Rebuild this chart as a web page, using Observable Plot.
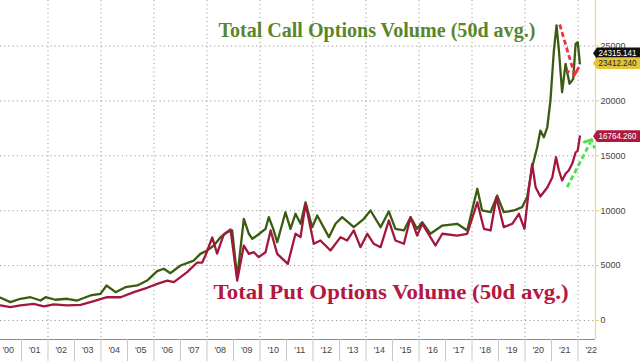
<!DOCTYPE html>
<html><head><meta charset="utf-8">
<script src="https://cdn.jsdelivr.net/npm/d3@7"></script>
<script src="https://cdn.jsdelivr.net/npm/@observablehq/plot@0.6"></script>
<style>body{margin:0;background:#fff} svg{display:block}</style>
</head><body><div id="chart"></div>
<script>
// ---- data (decimal years / contracts, thousands) ----
const callDates = [2000.21,2000.58,2000.96,2001.34,2001.72,2001.91,2002.28,2002.72,2003.10,2003.60,2003.98,2004.21,2004.55,2004.92,2005.37,2005.74,2006.12,2006.37,2006.62,2007.00,2007.50,2007.75,2008.01,2008.26,2008.51,2008.76,2008.95,2009.14,2009.39,2009.58,2009.71,2009.89,2010.21,2010.33,2010.50,2010.65,2010.96,2011.15,2011.34,2011.53,2011.72,2011.97,2012.16,2012.60,2012.85,2013.10,2013.54,2013.92,2014.17,2014.55,2014.86,2015.11,2015.43,2015.68,2015.93,2016.12,2016.43,2016.88,2017.44,2017.82,2018.20,2018.38,2018.70,2018.95,2019.20,2019.58,2019.89,2020.08,2020.27,2020.46,2020.58,2020.71,2020.84,2020.96,2021.09,2021.19,2021.28,2021.40,2021.53,2021.68,2021.82,2021.91,2021.99,2022.07];
const callValues = [2070,1670,1980,2120,1820,2120,1890,1980,1820,2280,2430,3190,2580,3030,3190,3640,4490,4710,4310,5010,5460,6070,6380,6830,7590,8040,8200,3900,9260,7900,7440,7740,8350,9410,8350,7130,9860,8350,9720,8810,10770,8500,9560,7590,8810,9410,8500,9260,10020,8500,9930,8350,8200,9410,8350,8950,7900,8650,8810,8200,12000,10020,9860,11380,9860,10020,10320,11230,13960,15780,17300,16690,17600,20040,24590,26870,24590,20790,23380,21560,22010,25200,25350,23412];

const putDates = [2000.21,2000.58,2000.96,2001.46,2001.84,2002.22,2002.72,2003.23,2003.73,2004.23,2004.74,2005.24,2005.74,2006.12,2006.50,2006.75,2007.25,2007.63,2007.82,2007.94,2008.20,2008.38,2008.63,2008.89,2009.14,2009.39,2009.58,2009.77,2009.95,2010.21,2010.40,2010.65,2011.05,2011.34,2011.53,2011.72,2012.03,2012.28,2012.66,2013.04,2013.29,2013.54,2013.79,2014.05,2014.29,2014.55,2014.86,2015.11,2015.43,2015.68,2015.93,2016.12,2016.43,2016.62,2016.88,2017.44,2017.82,2018.20,2018.45,2018.70,2018.92,2019.20,2019.52,2019.77,2019.98,2020.14,2020.27,2020.40,2020.58,2020.84,2021.03,2021.17,2021.28,2021.40,2021.53,2021.65,2021.78,2021.91,2021.99,2022.07];
const putValues = [1370,1210,1370,1520,1280,1460,1370,1430,1760,2120,2120,2580,2980,3340,3640,3490,4400,5280,5280,5920,7560,6100,7830,8290,3640,6830,6070,6220,5770,6220,8200,6070,5160,7900,7590,10630,6990,7290,6380,7590,7290,8200,6680,7900,6990,6680,9110,7290,6990,9410,7740,8810,7590,6830,7900,7740,7900,10770,8350,8200,11230,8500,8810,9720,8350,11840,14270,12140,11290,12110,13020,14870,13660,12750,13360,13660,14270,15300,15480,16764];

const yTicks = [0, 5000, 10000, 15000, 20000, 25000];
const gridYears = [2002, 2004, 2006, 2008, 2010, 2012, 2014, 2016, 2018, 2020, 2022];
const yearStarts = d3.range(2001, 2023);
const xLabelYears = d3.range(2000.5, 2023, 1);
const xLabels = ["'00","'01","'02","'03","'04","'05","'06","'07","'08","'09","'10","'11","'12","'13","'14","'15","'16","'17","'18","'19","'20","'21","'22"];

const tagTexts = ["24315.141", "23412.240", "16764.260"];
const tagValues = [24315.141, 23412.240, 16764.260];

const callTitle = "Total Call Options Volume (50d avg.)";
const putTitle = "Total Put Options Volume (50d avg.)";
const callTitlePos = [2008.43, 26410];
const putTitlePos = [2008.25, 2550];

const redArrow = [2021.31, 26960, 2021.84, 22610];
const greenArrow = [2021.59, 12140, 2022.47, 16240];

// ---- build tables ----
const calls = callDates.map((d, i) => ({x: d, y: callValues[i]}));
const puts = putDates.map((d, i) => ({x: d, y: putValues[i]}));
const xDomain = [2000.208, 2022.66];
const yDomain = [-1730, 29144];
const xMax = xDomain[1];

const tagColors = [["#111111", "#ffffff"], ["#e3c43a", "#222222"], ["#ad1a40", "#ffffff"]];

const plot = Plot.plot({
  width: 640, height: 361,
  marginLeft: 0, marginRight: 45, marginTop: 0, marginBottom: 22,
  style: {background: "#fff", fontFamily: "Liberation Sans, Arial, sans-serif"},
  x: {type: "linear", domain: xDomain, label: null},
  y: {type: "linear", domain: yDomain, label: null},
  marks: [
    Plot.ruleY(yTicks, {stroke: "#9a9a9a", strokeDasharray: "1.2,3", strokeWidth: 1}),
    Plot.ruleX(gridYears, {stroke: "#9a9a9a", strokeDasharray: "1.2,3", strokeWidth: 1}),
    Plot.ruleY([yDomain[0]], {stroke: "#8c8c8c"}),
    Plot.ruleX([xMax], {stroke: "#e6d98c", strokeWidth: 1.2}),
    Plot.axisX({ticks: yearStarts, tickSize: 22, tickFormat: () => "", stroke: "#c8c8c8", label: null}),
    Plot.axisX({ticks: xLabelYears, tickSize: 0, tickPadding: 7, fontSize: 9, fill: "#444", label: null,
      tickFormat: d => xLabels[Math.round(d - 2000.5)]}),
    Plot.axisY({anchor: "right", ticks: yTicks, tickSize: 3, tickPadding: 2, fontSize: 9, label: null,
      stroke: "#e0cf6a", fill: "#444", tickFormat: d => String(d)}),
    Plot.line(calls, {x: "x", y: "y", stroke: "#3b5b10", strokeWidth: 2.3, curve: "linear"}),
    Plot.line(puts, {x: "x", y: "y", stroke: "#a4173d", strokeWidth: 2.3, curve: "linear"}),
    Plot.text([callTitle], {x: callTitlePos[0], y: callTitlePos[1], text: d => d, textAnchor: "start",
      fontFamily: "Liberation Serif, Times New Roman, serif", fontWeight: "bold", fontSize: 20,
      fill: "#5a862a"}),
    Plot.text([putTitle], {x: putTitlePos[0], y: putTitlePos[1], text: d => d, textAnchor: "start",
      fontFamily: "Liberation Serif, Times New Roman, serif", fontWeight: "bold", fontSize: 21,
      fill: "#b4173f"}),
    Plot.link([redArrow], {x1: d => d[0], y1: d => d[1], x2: d => d[2], y2: d => d[3],
      stroke: "#ee3344", strokeWidth: 2.8, strokeDasharray: "5,3", markerEnd: "arrow"}),
    Plot.link([greenArrow], {x1: d => d[0], y1: d => d[1], x2: d => d[2], y2: d => d[3],
      stroke: "#4ee04a", strokeWidth: 2.8, strokeDasharray: "5,3", markerEnd: "arrow"}),
    ...tagTexts.map((t, i) => Plot.text([t], {x: xMax, y: tagValues[i], text: d => d, dx: 3,
      textAnchor: "start", fontSize: 8.5, fill: tagColors[i][1]}))
  ]
});
document.getElementById("chart").append(plot);

const allTexts = Array.from(plot.querySelectorAll("text"));
function byContent(s) { return allTexts.filter(t => t.textContent === s); }

// fit title widths to the reference
byContent(callTitle).forEach(t => { t.setAttribute("textLength", 317); t.setAttribute("lengthAdjust", "spacingAndGlyphs"); });
byContent(putTitle).forEach(t => { t.setAttribute("textLength", 355); t.setAttribute("lengthAdjust", "spacingAndGlyphs"); });

// tag backgrounds (pointed toward the axis)
tagTexts.forEach((s, i) => {
  byContent(s).forEach(t => {
    t.setAttribute("textLength", 38);
    t.setAttribute("lengthAdjust", "spacingAndGlyphs");
    let bb;
    try { bb = t.getBBox(); } catch (e) { return; }
    const p = document.createElementNS("http://www.w3.org/2000/svg", "path");
    const top = bb.y - 0.8, bot = bb.y + bb.height + 0.8, mid = (top + bot) / 2;
    const left = bb.x - 1.5;
    p.setAttribute("d", `M${left - 4},${mid}L${left},${top}L${left + 60},${top}L${left + 60},${bot}L${left},${bot}Z`);
    p.setAttribute("fill", tagColors[i][0]);
    p.setAttribute("stroke", "none");
    const tr = t.getAttribute("transform");
    if (tr) p.setAttribute("transform", tr);
    t.parentNode.insertBefore(p, t);
  });
});
</script>
</body></html>
